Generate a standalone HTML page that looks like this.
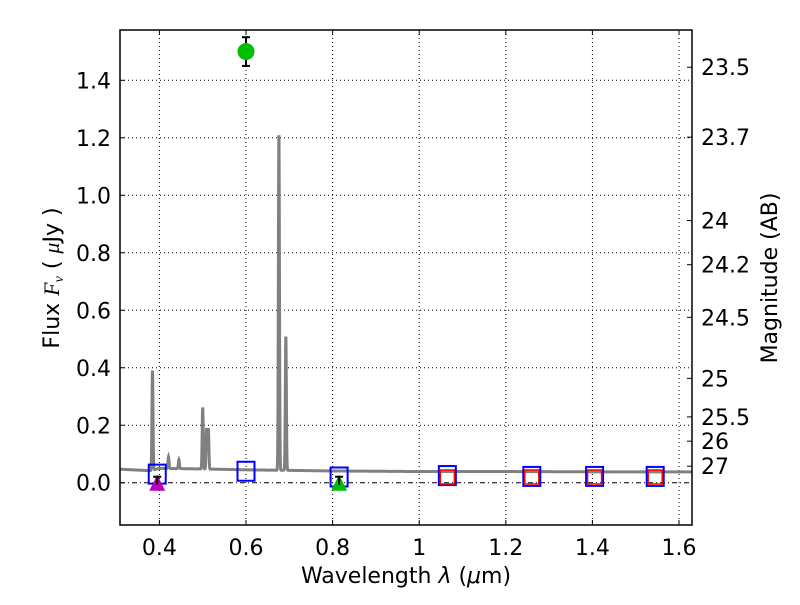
<!DOCTYPE html>
<html><head><meta charset="utf-8"><style>
body{margin:0;background:#fff;}
svg text{font-family:"DejaVu Sans","Liberation Sans",sans-serif;fill:#000;}
</style></head><body>
<svg id="chart" width="800" height="600" xmlns="http://www.w3.org/2000/svg">
<rect width="800" height="600" fill="#fff"/>
<g id="grid"></g><g id="marks"></g><g id="axes"></g>
</svg>
<script>
const xTicks=[0.4,0.6,0.8,1.0,1.2,1.4,1.6];
const xTickLabels=["0.4","0.6","0.8","1","1.2","1.4","1.6"];
const yTicks=[0,0.2,0.4,0.6,0.8,1.0,1.2,1.4];
const yTickLabels=["0.0","0.2","0.4","0.6","0.8","1.0","1.2","1.4"];
const magTicks=[23.5,23.7,24,24.2,24.5,25,25.5,26,27];
const magLabels=["23.5","23.7","24","24.2","24.5","25","25.5","26","27"];
const contWave=[0.31,0.35,0.38,0.4,0.5,0.6,0.7,0.8,0.9,1.0,1.2,1.4,1.63];
const contFlux=[0.047,0.044,0.042,0.05,0.048,0.045,0.043,0.041,0.04,0.039,0.039,0.038,0.038];
const lineWave=[0.384,0.421,0.445,0.500,0.509,0.513,0.676,0.692];
const lineFlux=[0.39,0.09,0.08,0.26,0.19,0.19,1.22,0.51];
const blueWave=[0.395,0.6,0.815,1.065,1.26,1.405,1.545];
const blueFlux=[0.03,0.04,0.02,0.025,0.022,0.022,0.022];
const redWave=[1.065,1.26,1.405,1.545];
const redFlux=[0.02,0.02,0.02,0.02];
const obsWave=[0.6];const obsFlux=[1.5];const obsErr=[0.05];
const limWave=[0.395,0.815];const limFlux=[0.0,0.0];const limColor=["#bf00bf","#00bf00"];
const X0=120,X1=692,Y0=30,Y1=525,xmin=0.309,xmax=1.63,ymin=-0.147,ymax=1.575;
const sx=v=>X0+(v-xmin)/(xmax-xmin)*(X1-X0);
const sy=v=>Y1-(v-ymin)/(ymax-ymin)*(Y1-Y0);
const NS="http://www.w3.org/2000/svg";
function mk(p,t,a){const e=document.createElementNS(NS,t);for(const k in a)e.setAttribute(k,a[k]);p.appendChild(e);return e;}
const G=document.getElementById('grid'),M=document.getElementById('marks'),A=document.getElementById('axes');
xTicks.forEach((v,i)=>{const x=sx(v);
 let g=mk(G,'line',{x1:x,x2:x,y1:Y0,y2:Y1,stroke:'#000','stroke-dasharray':'1,3','stroke-width':1});
 
 mk(A,'line',{x1:x,x2:x,y1:Y1,y2:Y1-5,stroke:'#000'});
 mk(A,'line',{x1:x,x2:x,y1:Y0,y2:Y0+5,stroke:'#000'});
 let l=mk(A,'text',{x:x,y:Y1+30,'text-anchor':'middle','font-size':22});l.textContent=xTickLabels[i];
 });
yTicks.forEach((v,i)=>{const y=sy(v);
 let g=mk(G,'line',{x1:X0,x2:X1,y1:y,y2:y,stroke:'#000','stroke-dasharray':(v===0?'5,3,1,3':'1,3'),'stroke-width':1});
 
 mk(A,'line',{x1:X0,x2:X0+5,y1:y,y2:y,stroke:'#000'});
 let l=mk(A,'text',{x:X0-9,y:y+8,'text-anchor':'end','font-size':22});l.textContent=yTickLabels[i];
 });
magTicks.forEach((m,i)=>{const y=sy(Math.pow(10,(23.9-m)/2.5));
 mk(A,'line',{x1:X1,x2:X1-5,y1:y,y2:y,stroke:'#000'});
 let l=mk(A,'text',{x:X1+9,y:y+8,'font-size':22});l.textContent=magLabels[i];
 });
function spec(w){let c=contFlux[0];for(let i=0;i<contWave.length-1;i++){if(w>=contWave[i]&&w<=contWave[i+1]){c=contFlux[i]+(contFlux[i+1]-contFlux[i])*(w-contWave[i])/(contWave[i+1]-contWave[i]);}}
 let f=c;lineWave.forEach((lw,j)=>{const s=0.0012;f+=(lineFlux[j]-c)*Math.exp(-0.5*Math.pow((w-lw)/s,2));});return f;}
let d='';for(let w=xmin;w<=xmax;w+=0.0004){d+=(d?'L':'M')+sx(w).toFixed(2)+','+sy(spec(w)).toFixed(2);}
let sp=mk(M,'path',{d:d,fill:'none',stroke:'#808080','stroke-width':3});

blueWave.forEach((w,i)=>{let r=mk(M,'rect',{x:sx(w)-8.5,y:sy(blueFlux[i])-9.5,width:17,height:19,fill:'none',stroke:'#0000ff','stroke-width':2});
 });
redWave.forEach((w,i)=>{let r=mk(M,'rect',{x:sx(w)-7,y:sy(redFlux[i])-7,width:14,height:14,fill:'none',stroke:'#ff0000','stroke-width':1.5});
 });
limWave.forEach((w,i)=>{const x=sx(w),y=sy(limFlux[i]);
 let t=mk(M,'polygon',{points:`${x-8},${y+8} ${x+8},${y+8} ${x},${y-8}`,fill:limColor[i]});
 
 mk(M,'line',{x1:x,x2:x,y1:y-6,y2:y+2,stroke:'#000','stroke-width':2});
 mk(M,'line',{x1:x-4,x2:x+4,y1:y-6,y2:y-6,stroke:'#000','stroke-width':2});});
obsWave.forEach((w,i)=>{const x=sx(w);
 mk(M,'line',{x1:x,x2:x,y1:sy(obsFlux[i]+obsErr[i]),y2:sy(obsFlux[i]-obsErr[i]),stroke:'#000','stroke-width':2});
 mk(M,'line',{x1:x-4,x2:x+4,y1:sy(obsFlux[i]+obsErr[i]),y2:sy(obsFlux[i]+obsErr[i]),stroke:'#000','stroke-width':2});
 mk(M,'line',{x1:x-4,x2:x+4,y1:sy(obsFlux[i]-obsErr[i]),y2:sy(obsFlux[i]-obsErr[i]),stroke:'#000','stroke-width':2});
 let c=mk(M,'circle',{cx:x,cy:sy(obsFlux[i]),r:8.5,fill:'#00bf00'});
 });
let fr=mk(A,'rect',{x:X0,y:Y0,width:X1-X0,height:Y1-Y0,fill:'none',stroke:'#000','stroke-width':1.5});

</script>
<svg width="800" height="600" style="position:absolute;left:0;top:0" xmlns="http://www.w3.org/2000/svg">
<text x="406" y="583" text-anchor="middle" font-size="22">Wavelength  <tspan font-style="italic">λ</tspan> (<tspan font-style="italic">μ</tspan>m)</text>
<text transform="translate(59,278) rotate(-90)" text-anchor="middle" font-size="22">Flux  <tspan font-style="italic" font-family="Liberation Serif">F<tspan font-size="14" dy="4">ν</tspan></tspan><tspan dy="-4">  ( </tspan><tspan font-style="italic" font-family="Liberation Serif">μ</tspan>Jy )</text>
<text transform="translate(777,278) rotate(-90)" text-anchor="middle" font-size="22">Magnitude (AB)</text>
</svg>
</body></html>
